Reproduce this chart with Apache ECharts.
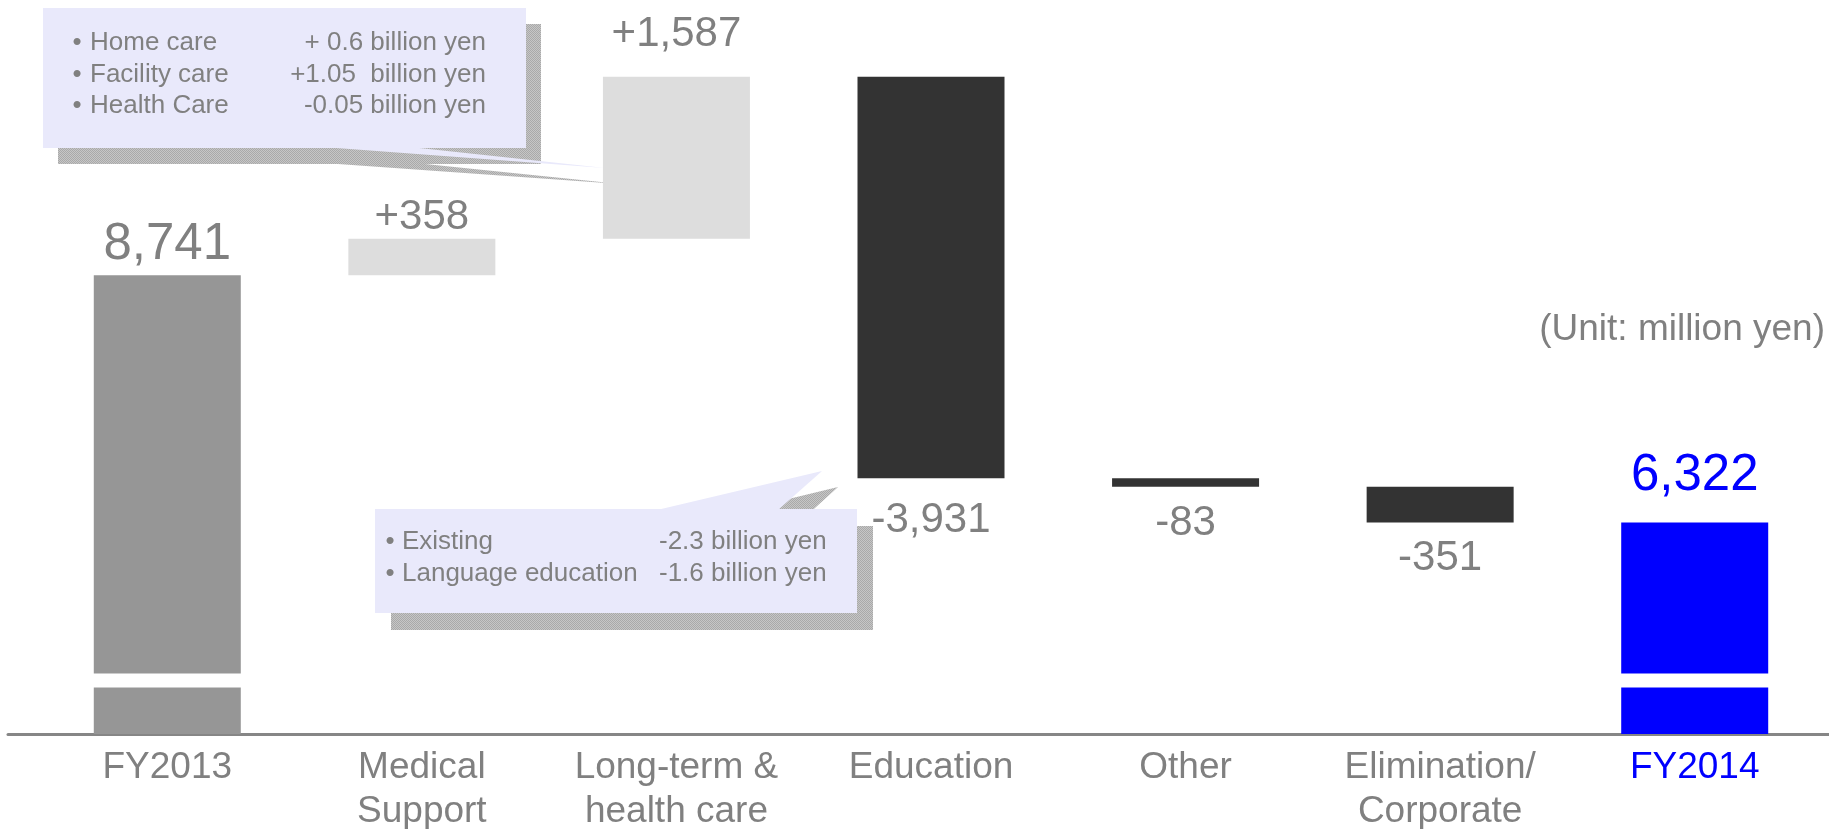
<!DOCTYPE html>
<html><head><meta charset="utf-8">
<script src="https://cdn.jsdelivr.net/npm/echarts@6.0.0/dist/echarts.min.js"></script>
<style>html,body{margin:0;padding:0;background:#fff;}#c{width:1829px;height:829px;}</style>
</head><body><div id="c"></div>
<script>
// ---- data ----
const categories = ['FY2013', 'Medical\nSupport', 'Long-term &\nhealth care', 'Education', 'Other', 'Elimination/\nCorporate', 'FY2014'];
const startTotal = 8741;
const changes = [358, 1587, -3931, -83, -351];
const endTotal = 6322;
const unitNote = '(Unit: million yen)';
const careNotes = [['Home care', '+ 0.6 billion yen'], ['Facility care', '+1.05  billion yen'], ['Health Care', '-0.05 billion yen']];
const eduNotes = [['Existing', '-2.3 billion yen'], ['Language education', '-1.6 billion yen']];

// ---- build waterfall ----
const FONT = '"Liberation Sans", Arial, Helvetica, sans-serif';
const fmt = v => v.toLocaleString('en-US');
const baseData = [], barData = [], kinds = [], labelTxt = [];
let run = startTotal;
baseData.push(0); barData.push(startTotal); kinds.push('start'); labelTxt.push(fmt(startTotal));
changes.forEach(d => {
  baseData.push(d >= 0 ? run : run + d);
  barData.push(Math.abs(d));
  kinds.push(d >= 0 ? 'up' : 'down');
  labelTxt.push((d >= 0 ? '+' : '') + fmt(d));
  run += d;
});
baseData.push(0); barData.push(endTotal); kinds.push('end'); labelTxt.push(fmt(endTotal));

const kindColor = {start: '#969696', up: '#DDDDDD', down: '#333333', end: '#0000FF'};
const labelDist = [5, 0, 21, 21, 16, 15, 21];
const GRAY = '#808080';

const valueData = barData.map((v, i) => {
  const big = kinds[i] === 'start' || kinds[i] === 'end';
  const fs = big ? 51 : 42;
  return {
    value: v,
    itemStyle: {color: kindColor[kinds[i]]},
    label: {
      position: kinds[i] === 'down' ? 'bottom' : 'top',
      distance: labelDist[i],
      fontSize: fs, lineHeight: fs,
      color: kinds[i] === 'end' ? '#0000FF' : GRAY
    }
  };
});

// hatched shadow pattern
const pc = document.createElement('canvas'); pc.width = 2; pc.height = 2;
const pg = pc.getContext('2d');
pg.fillStyle = '#c6c6c6'; pg.fillRect(0, 0, 2, 2);
pg.fillStyle = '#a9a9a9'; pg.fillRect(0, 0, 1, 1); pg.fillRect(1, 1, 1, 1);
const pat = {image: pc, repeat: 'repeat'};
const BOX = '#E9E9FB';

function txt(text, x, y, size, align, color) {
  return {type: 'text', z: 5, style: {text, x, y, fill: color || GRAY, font: size + 'px ' + FONT,
    textAlign: align, align: align, textVerticalAlign: 'middle', verticalAlign: 'middle'}};
}
const graphics = [
  // callout 1 (long-term care)
  {type: 'polygon', z: 1, shape: {points: [[338, 164], [425, 164], [620, 184]]}, style: {fill: pat}},
  {type: 'rect', z: 1, shape: {x: 58, y: 24, width: 483, height: 140}, style: {fill: pat}},
  {type: 'polygon', z: 2, shape: {points: [[323, 147], [410, 147], [605, 168]]}, style: {fill: BOX}},
  {type: 'rect', z: 2, shape: {x: 43, y: 8, width: 483, height: 140}, style: {fill: BOX}},
  // callout 2 (education)
  {type: 'polygon', z: 1, shape: {points: [[673, 527], [794, 527], [838, 487]]}, style: {fill: pat}},
  {type: 'rect', z: 1, shape: {x: 391, y: 526, width: 482, height: 104}, style: {fill: pat}},
  {type: 'polygon', z: 2, shape: {points: [[657, 510], [778, 510], [822, 471]]}, style: {fill: BOX}},
  {type: 'rect', z: 2, shape: {x: 375, y: 509, width: 482, height: 104}, style: {fill: BOX}},
  txt(unitNote, 1825, 330, 37, 'right')
];
careNotes.forEach(([a, b], i) => {
  const y = 43 + i * 31.5;
  graphics.push(txt('•', 77, y, 26, 'center'), txt(a, 90, y, 26, 'left'), txt(b, 486, y, 26, 'right'));
});
eduNotes.forEach(([a, b], i) => {
  const y = 542 + i * 32;
  graphics.push(txt('•', 390, y, 26, 'center'), txt(a, 402, y, 26, 'left'), txt(b, 659, y, 26, 'left'));
});

const chart = echarts.init(document.getElementById('c'));
chart.setOption({
  animation: false,
  backgroundColor: '#fff',
  textStyle: {fontFamily: FONT},
  grid: [
    {left: 40, width: 1782, top: 14, bottom: 95, containLabel: false, outerBoundsMode: 'none'},
    {left: 8, right: 0, top: 14, bottom: 95, containLabel: false, outerBoundsMode: 'none'}
  ],
  xAxis: [
    {type: 'category', gridIndex: 0, data: categories,
      axisLine: {show: false}, axisTick: {show: false}, splitLine: {show: false},
      axisLabel: {interval: 0, margin: 12, fontSize: 37, lineHeight: 44, fontFamily: FONT,
        color: (v, i) => (i === categories.length - 1 ? '#0000FF' : GRAY)}},
    {type: 'category', gridIndex: 1, data: [''],
      axisLine: {show: true, lineStyle: {color: '#868686', width: 3}},
      axisTick: {show: false}, axisLabel: {show: false}, splitLine: {show: false}}
  ],
  yAxis: [
    {type: 'value', gridIndex: 0, min: 0, max: 11300,
      axisLine: {show: false}, axisTick: {show: false}, axisLabel: {show: false}, splitLine: {show: false},
      breaks: [{start: 460, end: 4847, gap: 137}],
      breakArea: {show: true, expandOnClick: false, zigzagAmplitude: 0, zigzagZ: 100,
        itemStyle: {color: '#fff', borderColor: '#fff', borderWidth: 0, opacity: 1}}},
    {type: 'value', gridIndex: 1, show: false}
  ],
  series: [
    {type: 'bar', name: 'base', stack: 'w', xAxisIndex: 0, yAxisIndex: 0, data: baseData, barWidth: 147,
      itemStyle: {color: 'rgba(0,0,0,0)'}, silent: true, label: {show: false}, emphasis: {disabled: true}},
    {type: 'bar', name: 'value', stack: 'w', xAxisIndex: 0, yAxisIndex: 0, data: valueData, barWidth: 147,
      label: {show: true, fontFamily: FONT, formatter: p => labelTxt[p.dataIndex]}}
  ],
  graphic: graphics
});
</script></body></html>
